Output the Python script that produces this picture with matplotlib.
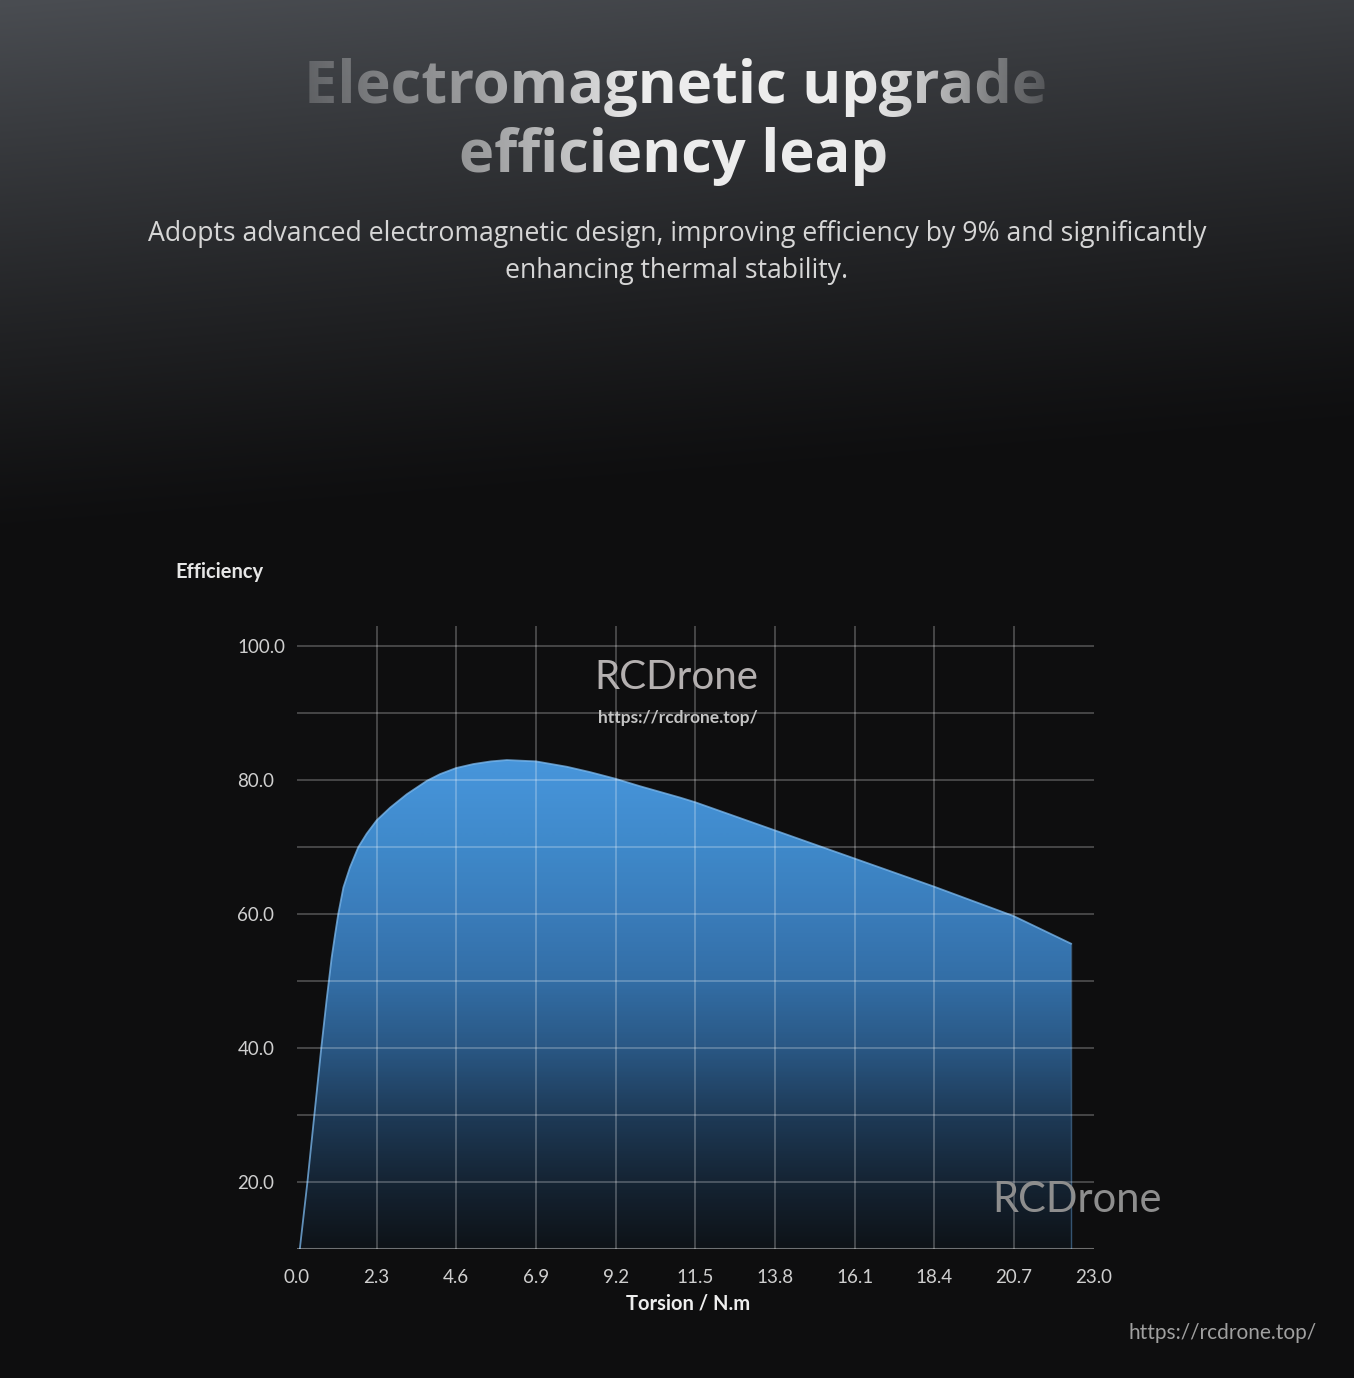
import numpy as np
import matplotlib
matplotlib.use("Agg")
import matplotlib.pyplot as plt
from matplotlib.colors import LinearSegmentedColormap

# ---------------- data ----------------
torsion = [0.08, 0.3, 0.5, 0.7, 0.85, 1.0, 1.1, 1.19, 1.34, 1.53, 1.77, 2.01, 2.3,
           2.69, 3.17, 3.75, 4.13, 4.59, 5.09, 5.6, 6.06, 6.9, 7.79, 8.46, 9.2, 9.9,
           11.06, 11.5, 13.8, 16.1, 18.4, 20.7, 22.35]
efficiency = [10, 20, 30, 40, 47, 53.5, 57, 60.0, 64.0, 67.0, 70.0, 72.0, 74.0,
              75.9, 77.9, 79.9, 80.9, 81.8, 82.4, 82.8, 83.0, 82.8, 82.0, 81.2, 80.2, 79.1,
              77.4, 76.7, 72.5, 68.3, 64.1, 59.7, 55.6]
x_ticks = [0.0, 2.3, 4.6, 6.9, 9.2, 11.5, 13.8, 16.1, 18.4, 20.7, 23.0]
y_ticks = [20, 40, 60, 80, 100]
y_grid = [20, 30, 40, 50, 60, 70, 80, 90, 100]
title_lines = ["Electromagnetic upgrade", "efficiency leap"]
subtitle_lines = ["Adopts advanced electromagnetic design, improving efficiency by 9% and significantly",
                  "enhancing thermal stability."]
x_label = "Torsion / N.m"
y_label = "Efficiency"
watermark = "RCDrone"
url = "https://rcdrone.top/"

W, H = 1354, 1378
fig = plt.figure(figsize=(W / 100, H / 100), dpi=100)

# ---------------- background ----------------
axbg = fig.add_axes([0, 0, 1, 1])
axbg.set_xlim(0, W)
axbg.set_ylim(H, 0)
axbg.axis("off")
yy, xx = np.mgrid[0:H, 0:W].astype(float)
s = np.clip((yy + 0.08 * xx) / 540.0, 0, 1)
light = np.array([74, 77, 82]) / 255.0
dark = np.array([14, 14, 15]) / 255.0
f = (1 - s) ** 1.2
bg = dark[None, None, :] + (light - dark)[None, None, :] * f[..., None]
axbg.imshow(bg, extent=(0, W, H, 0), aspect="auto", interpolation="nearest", zorder=0)

# title
axbg.text(W / 2 - 2, 103, title_lines[0], ha="center", va="baseline", fontsize=42.8,
          family="Open Sans", weight="bold", color="#ececec", zorder=3)
axbg.text(W / 2 - 3, 172, title_lines[1], ha="center", va="baseline", fontsize=42.8,
          family="Open Sans", weight="bold", color="#ececec", zorder=3)
# fade overlay for title (same background, horizontal alpha ramp)
y0, y1 = 40, 200
ov = np.zeros((y1 - y0, W, 4))
ov[..., :3] = bg[y0:y1]
ax_pts = [0, 305, 380, 470, 560, 640, 860, 900, 950, 1000, 1045, W]
a_pts = [0.85, 0.8, 0.62, 0.45, 0.25, 0.0, 0.0, 0.12, 0.35, 0.65, 0.82, 0.85]
ov[..., 3] = np.interp(np.arange(W), ax_pts, a_pts)[None, :]
axbg.imshow(ov, extent=(0, W, y1, y0), aspect="auto", interpolation="nearest", zorder=4)

# subtitle
axbg.text(W / 2, 241, subtitle_lines[0], ha="center", va="baseline", fontsize=19.2,
          family="Open Sans", color="#d6d6d6", zorder=3)
axbg.text(W / 2, 278, subtitle_lines[1], ha="center", va="baseline", fontsize=19.2,
          family="Open Sans", color="#d6d6d6", zorder=3)

# axis captions and watermarks (pixel coords)
axbg.text(175, 572, y_label, ha="left", va="center", fontsize=14.5, family="Lato",
          weight="bold", color="#e6e6e6", zorder=3)
axbg.text(688, 1304, x_label, ha="center", va="center", fontsize=14.5, family="Lato",
          weight="bold", color="#eeeeee", zorder=3)
axbg.text(1317, 1339, url, ha="right", va="baseline", fontsize=15, family="Lato",
          color="#a0a0a0", zorder=3)

# ---------------- chart ----------------
left, right = 297, 1093.6
bottom_px, top_px = 1249.3, 626
ax = fig.add_axes([left / W, (H - bottom_px) / H, (right - left) / W, (bottom_px - top_px) / H])
ax.set_facecolor("none")
ax.set_xlim(0, 23)
ax.set_ylim(10, 103)
for sp in ax.spines.values():
    sp.set_visible(False)

# gradient fill clipped to area under curve
stops = [(10, "#0e1318"), (20, "#152434"), (30, "#1e3b58"), (40, "#2a5885"),
         (50, "#336ea6"), (60, "#3a7cba"), (70, "#3f89ca"), (80, "#4693d8"),
         (90, "#4b9be0"), (103, "#4b9be0")]
cmap = LinearSegmentedColormap.from_list("eff", [((v - 10) / 93.0, c) for v, c in stops])
grad = np.linspace(10, 103, 400).reshape(-1, 1)
im = ax.imshow(grad, extent=(0, 23, 10, 103), origin="lower", aspect="auto",
               cmap=cmap, vmin=10, vmax=103, zorder=1, interpolation="bilinear")
poly = ax.fill_between(torsion, efficiency, 10, facecolor="none", edgecolor="none")
im.set_clip_path(poly.get_paths()[0], transform=ax.transData)
ax.plot(torsion, efficiency, color="#7cbaf0", lw=1.3, alpha=0.75, zorder=2,
        solid_joinstyle="round")
ax.plot([torsion[-1], torsion[-1]], [efficiency[-1], 10], color="#5d9ad2", lw=1.0,
        alpha=0.5, zorder=2)

# grid
ax.hlines(y_grid, 0, 23, colors="white", alpha=0.27, lw=1.2, zorder=3)
ax.vlines(x_ticks[1:-1], 10, 103, colors="white", alpha=0.27, lw=1.2, zorder=3)
ax.hlines([10], 0, 23, colors="white", alpha=0.4, lw=1.5, zorder=3)

ax.set_xticks(x_ticks, [f"{v:.1f}" for v in x_ticks])
ax.set_yticks(y_ticks, [f"{v:.1f}" for v in y_ticks])
ax.tick_params(axis="both", length=0, colors="#cfcfcf", labelsize=13.5)
ax.tick_params(axis="x", pad=14)
ax.tick_params(axis="y", pad=43)
for lbl in ax.get_yticklabels():
    lbl.set_ha("left")
    lbl.set_family("Lato")
for lbl in ax.get_xticklabels():
    lbl.set_family("Lato")

# watermarks
ax.text(0.476, 0.918, watermark, transform=ax.transAxes, ha="center", va="center",
        fontsize=29, family="Lato", color="#b4b0b0", zorder=5)
ax.text(0.478, 0.852, url, transform=ax.transAxes, ha="center", va="center",
        fontsize=12.5, family="Lato", weight="bold", color="#c4c4c4", zorder=5)
ax.text(0.979, 0.079, watermark, transform=ax.transAxes, ha="center", va="center",
        fontsize=30, family="Lato", color="#8e8e8e", zorder=5)

fig.savefig("out.png", dpi=100)
